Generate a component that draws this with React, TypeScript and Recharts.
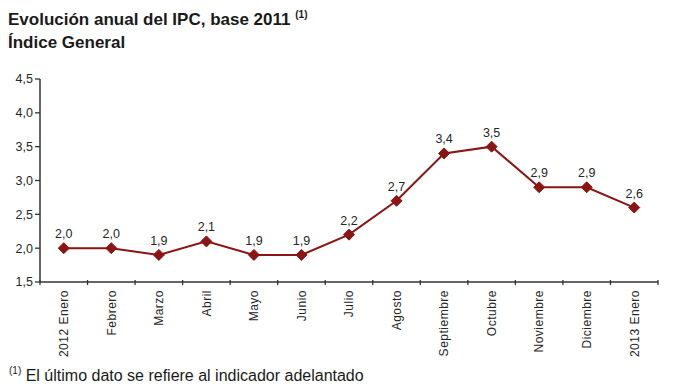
import { LineChart, Line, XAxis, YAxis, LabelList } from "recharts";

const months = [
  "2012 Enero",
  "Febrero",
  "Marzo",
  "Abril",
  "Mayo",
  "Junio",
  "Julio",
  "Agosto",
  "Septiembre",
  "Octubre",
  "Noviembre",
  "Diciembre",
  "2013 Enero",
];
const ipc = [2.0, 2.0, 1.9, 2.1, 1.9, 1.9, 2.2, 2.7, 3.4, 3.5, 2.9, 2.9, 2.6];
const yTicks = [1.5, 2.0, 2.5, 3.0, 3.5, 4.0, 4.5];

const data = months.map((m, i) => ({ mes: m, ipc: ipc[i] }));

const W = 680;
const H = 392;
const margin = { top: 79, right: 22, bottom: 0, left: 0 };
const yAxisW = 40;
const xAxisH = 110;
const plotW = W - margin.left - margin.right - yAxisW;
const band = plotW / months.length;

const FONT = "'Liberation Sans', Arial, sans-serif";
const RED = "#8b1414";
const AXIS = "#333";
const TEXT = "#262626";

const fmt = (v: number) => v.toFixed(1).replace(".", ",");

function MonthTick(props: any) {
  const { x, y, payload, index } = props;
  const half = band / 2;
  const last = index === months.length - 1;
  return (
    <g>
      <line x1={x - half} y1={y - 8} x2={x - half} y2={y - 3} stroke={AXIS} strokeWidth={1.3} />
      {last && (
        <line x1={x + half} y1={y - 8} x2={x + half} y2={y - 3} stroke={AXIS} strokeWidth={1.3} />
      )}
      <text
        transform={`translate(${x},${y + 2}) rotate(-90)`}
        textAnchor="end"
        dy="0.36em"
        fontSize={12}
        fill={TEXT}
        fontFamily={FONT}
        letterSpacing={0.5}
      >
        {payload.value}
      </text>
    </g>
  );
}

function Diamond(props: any) {
  const { cx, cy } = props;
  if (cx == null || cy == null) return null;
  const r = 5.5;
  return (
    <polygon
      points={`${cx},${cy - r} ${cx + r},${cy} ${cx},${cy + r} ${cx - r},${cy}`}
      fill={RED}
      stroke={RED}
    />
  );
}

export default function App() {
  return (
    <div
      style={{
        position: "absolute",
        left: 0,
        top: 0,
        width: W,
        height: H,
        background: "#fff",
        fontFamily: FONT,
      }}
    >
      <div
        style={{
          position: "absolute",
          left: 8,
          top: 3,
          fontSize: 17,
          fontWeight: "bold",
          color: "#1a1a1a",
          lineHeight: "23px",
        }}
      >
        <div>
          Evolución anual del IPC, base 2011{" "}
          <sup style={{ fontSize: 10, verticalAlign: "7px" }}>(1)</sup>
        </div>
        <div>Índice General</div>
      </div>
      <LineChart width={W} height={H} data={data} margin={margin}>
        <XAxis
          dataKey="mes"
          scale="band"
          interval={0}
          height={xAxisH}
          tickLine={false}
          axisLine={{ stroke: AXIS, strokeWidth: 1.5 }}
          tick={<MonthTick />}
          tickMargin={0}
        />
        <YAxis
          domain={[1.5, 4.5]}
          ticks={yTicks}
          width={yAxisW}
          tickFormatter={fmt}
          axisLine={{ stroke: AXIS, strokeWidth: 1.5 }}
          tickLine={{ stroke: AXIS, strokeWidth: 1.3 }}
          tickSize={5}
          tick={{ fontSize: 12.5, fill: TEXT, fontFamily: FONT }}
        />
        <Line
          dataKey="ipc"
          stroke={RED}
          strokeWidth={2}
          dot={<Diamond />}
          activeDot={false}
          isAnimationActive={false}
        >
          <LabelList
            dataKey="ipc"
            position="top"
            offset={10}
            formatter={(v: any) => fmt(Number(v))}
            style={{ fontSize: 12.5, fill: TEXT, fontFamily: FONT }}
          />
        </Line>
      </LineChart>
      <div
        style={{
          position: "absolute",
          left: 9,
          top: 365,
          fontSize: 16,
          color: "#1a1a1a",
          whiteSpace: "nowrap",
        }}
      >
        <sup style={{ fontSize: 10, verticalAlign: "7px" }}>(1)</sup> El último dato se refiere al
        indicador adelantado
      </div>
    </div>
  );
}
